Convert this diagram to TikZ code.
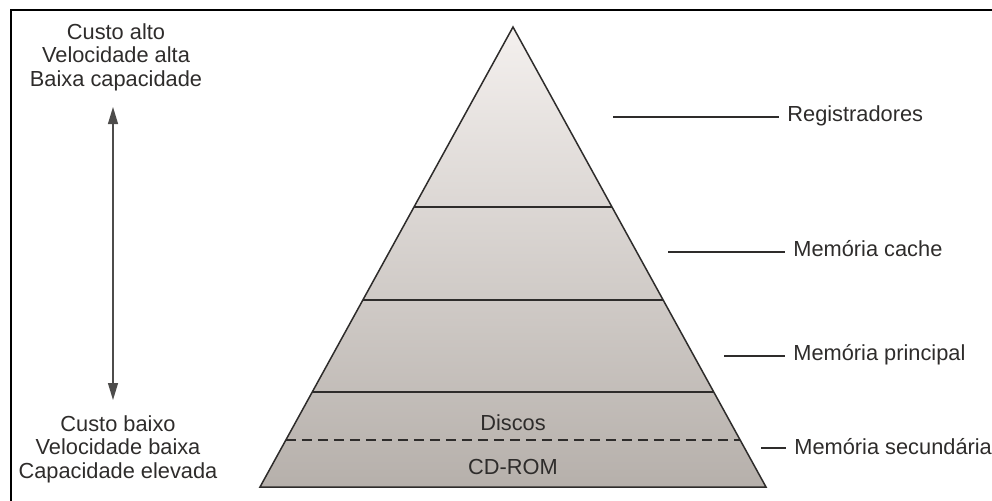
\documentclass[tikz,border=0pt]{standalone}
\usepackage{fontspec}
\setmainfont{Liberation Sans}
\usetikzlibrary{arrows.meta}
\definecolor{inkgray}{HTML}{2E2C2B}
\definecolor{pyrtop}{HTML}{F4F0EE}
\definecolor{pyrbot}{HTML}{B6B0AB}
\tikzset{
  every node/.style={font=\fontsize{10.9}{11.75}\selectfont, text=inkgray, inner sep=0pt},
  layerline/.style={draw=inkgray, line width=0.75pt},
  leader/.style={draw=inkgray, line width=0.7pt},
  lbl/.style={anchor=west, inner xsep=4pt},
  sidetext/.style={align=center},
}
\begin{document}
\begin{tikzpicture}[x=0.5pt, y=-0.5pt]
\useasboundingbox (0,0) rectangle (992,500);
\clip (0,0) rectangle (992,500);
% outer frame (runs past the right and bottom edges)
\draw[line width=1.2pt, black] (11,10) rectangle (1010,520);

% pyramid corners
\coordinate (apex) at (513,27);
\coordinate (bl) at (260,487);
\coordinate (br) at (766,487);

% shaded body
\begin{scope}
  \clip (apex) -- (br) -- (bl) -- cycle;
  \shade[top color=pyrtop, bottom color=pyrbot] (255,27) rectangle (770,487);
\end{scope}

% layer boundaries
\foreach \yy/\nm in {207/a, 300/b, 392/c} {
  \path (apex) -- (bl) coordinate[pos={(\yy-27)/460}] (L\nm);
  \path (apex) -- (br) coordinate[pos={(\yy-27)/460}] (R\nm);
  \draw[layerline] (L\nm) -- (R\nm);
}
\path (apex) -- (bl) coordinate[pos={(440-27)/460}] (Ld);
\path (apex) -- (br) coordinate[pos={(440-27)/460}] (Rd);
\draw[layerline, line width=0.6pt, dash pattern=on 5pt off 3pt] (Ld) -- (Rd);

% outline
\draw[layerline] (apex) -- (br) -- (bl) -- cycle;

% labels inside the base layer
\node (discos) at (513,423) {Discos};
\node (cdrom) at (513,467) {CD-ROM};

% leader lines and level names
\coordinate (regp) at (613,117);
\node[lbl] (reg) at (779,116) {Registradores};
\draw[leader] (regp) -- (regp -| reg.west);

\coordinate (cachep) at (668,252);
\node[lbl] (cache) at (785,249) {Memória cache};
\draw[leader] (cachep) -- (cachep -| cache.west);

\coordinate (princp) at (724,356);
\node[lbl] (princ) at (785,355) {Memória principal};
\draw[leader] (princp) -- (princp -| princ.west);

\coordinate (secp) at (761,448);
\node[lbl] (sec) at (786,447) {Memória secundária};
\draw[leader] (secp) -- (secp -| sec.west);

% cost / speed / capacity scale
\node[sidetext] (high) at (116,57) {Custo alto\\Velocidade alta\\Baixa capacidade};
\node[sidetext] (low) at (118,449) {Custo baixo\\Velocidade baixa\\Capacidade elevada};
\coordinate (arrtop) at (113,107);
\coordinate (arrbot) at (113,400);
\draw[draw=inkgray!85, line width=0.6pt,
      {Triangle[length=8.5pt,width=5pt]}-{Triangle[length=8.5pt,width=5pt]}]
  (arrtop) -- (arrbot);
\end{tikzpicture}
\end{document}
